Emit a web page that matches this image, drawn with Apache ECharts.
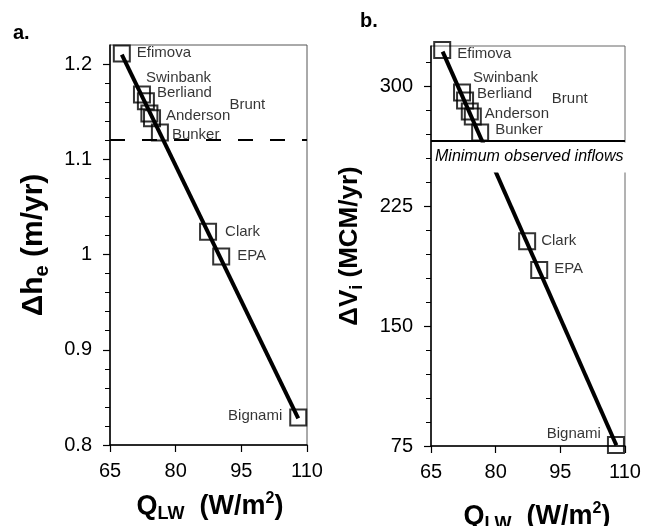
<!DOCTYPE html>
<html>
<head>
	<meta charset="utf-8">
	<title></title>
	<script src="https://cdn.jsdelivr.net/npm/echarts@6/dist/echarts.min.js"></script>
</head>
<body style="margin:0;background:#fff">
	<div id="main" style="width: 658px;height: 526px;"></div>
	<script>
		// values
		var names = ['Efimova', 'Swinbank', 'Berliand', 'Brunt', 'Anderson', 'Bunker', 'Clark', 'EPA', 'Bignami'];
		var qlwA = [67.7, 72.3, 73.2, 74.0, 74.6, 76.4, 87.4, 90.4, 108.0];
		var dhe = [1.211, 1.168, 1.161, 1.148, 1.143, 1.128, 1.024, 0.998, 0.829];
		var qlwB = [67.6, 72.2, 72.9, 74.0, 74.7, 76.4, 87.3, 90.1, 107.9];
		var dvi = [322.5, 296, 291, 284, 281, 271, 203, 185, 75.6];
		// regression line ends
		var fitQ = [67.7, 108.0];
		var fitA = [1.210, 0.828];
		var fitB = [321.5, 75.5];
		// horizontal reference lines
		var limitA = 1.116;
		var minInflowB = 265.6;
		// ticks
		var xTicks = [65, 80, 95, 110];
		var yTicksA = [0.8, 0.9, 1, 1.1, 1.2];
		var yMinorA = [0.82, 0.84, 0.86, 0.88, 0.92, 0.94, 0.96, 0.98, 1.02, 1.04, 1.06, 1.08, 1.12, 1.14, 1.16, 1.18];
		var yTicksB = [75, 150, 225, 300];
		var yMinorB = [90, 105, 120, 135, 165, 180, 195, 210, 240, 255, 270, 285, 315];

		var FONT = 'Liberation Sans, Arial, sans-serif';

		// label placement next to each square (dx, dy from centre)
		var shiftA = {Efimova: [16, 0], Swinbank: [5, -16], Berliand: [12, -7], Brunt: [81, -8], Anderson: [15, -1],
			Bunker: [13, 3], Clark: [18, 1], EPA: [17, 0], Bignami: [-15, -1]};
		var shiftB = {Efimova: [16, 5], Swinbank: [12, -14], Berliand: [13, -6], Brunt: [83, -12], Anderson: [13, -2],
			Bunker: [16, -2], Clark: [15, 1], EPA: [16, 0], Bignami: [-14, -10]};

		function points(xs, ys, shift) {
			return names.map(function (n, i) {
				var s = shift[n];
				return {
					name: n,
					value: [xs[i], ys[i]],
					label: {position: [s[0] + 8, s[1] + 8], align: s[0] < 0 ? 'right' : 'left'}
				};
			});
		}

		function pairs(xs, ys) {
			return xs.map(function (x, i) { return [x, ys[i]]; });
		}

		var myCharts = echarts.init(document.getElementById('main'));

		function xAxis(grid) {
			return {
				type: 'value', gridIndex: grid, min: 65, max: 110,
				axisLine: {show: true, onZero: false, lineStyle: {color: '#000', width: 1.5}},
				axisTick: {show: true, customValues: xTicks, length: 7, lineStyle: {color: '#000', width: 1.2}},
				axisLabel: {customValues: xTicks, fontSize: 20, color: '#000', fontFamily: FONT, margin: 16},
				splitLine: {show: false}
			};
		}
		function yAxis(grid, min, max, ticks, margin) {
			return {
				type: 'value', gridIndex: grid, min: min, max: max, position: 'left',
				axisLine: {show: true, onZero: false, lineStyle: {color: '#000', width: 1.5}},
				axisTick: {show: true, customValues: ticks, length: 7, lineStyle: {color: '#000', width: 1.2}},
				axisLabel: {customValues: ticks, fontSize: 20, color: '#000', fontFamily: FONT, margin: margin},
				splitLine: {show: false}
			};
		}
		// second axis on the same side, only for the short ticks
		function yMinor(grid, min, max, ticks) {
			return {
				type: 'value', gridIndex: grid, min: min, max: max, position: 'left', offset: 0,
				axisLine: {show: false, onZero: false},
				axisTick: {show: true, customValues: ticks, length: 5, lineStyle: {color: '#000', width: 1}},
				axisLabel: {show: false},
				splitLine: {show: false}
			};
		}

		var squareStyle = {color: 'rgba(0,0,0,0)', borderColor: '#000', borderWidth: 2};
		var labelStyle = {show: true, formatter: '{b}', fontSize: 15, color: '#000', fontFamily: FONT, verticalAlign: 'middle'};

		var option = {
			animation: false,
			grid: [
				{left: 110, top: 45, width: 197, height: 400, show: true, borderColor: '#555', borderWidth: 1},
				{left: 431, top: 46, width: 194, height: 400, show: true, borderColor: '#666', borderWidth: 1}
			],
			xAxis: [xAxis(0), xAxis(1)],
			yAxis: [
				yAxis(0, 0.8, 1.22, yTicksA, 18),
				yMinor(0, 0.8, 1.22, yMinorA),
				yAxis(1, 75, 325, yTicksB, 18),
				yMinor(1, 75, 325, yMinorB)
			],
			series: [
				{
					type: 'line', xAxisIndex: 0, yAxisIndex: 0, data: pairs(fitQ, fitA),
					symbol: 'none', lineStyle: {color: '#000', width: 4}, z: 2,
					markLine: {
						silent: true, symbol: 'none', label: {show: false},
						lineStyle: {color: '#000', width: 2, type: [15, 17]},
						data: [{yAxis: limitA}]
					}
				},
				{
					type: 'scatter', xAxisIndex: 0, yAxisIndex: 0, data: points(qlwA, dhe, shiftA),
					symbol: 'rect', symbolSize: 16, itemStyle: squareStyle, label: labelStyle, z: 3
				},
				{
					type: 'line', xAxisIndex: 1, yAxisIndex: 2, data: pairs(fitQ, fitB),
					symbol: 'none', lineStyle: {color: '#000', width: 4}, z: 2,
					markLine: {
						silent: true, symbol: 'none', label: {show: false},
						lineStyle: {color: '#000', width: 2, type: 'solid'},
						data: [{yAxis: minInflowB}]
					}
				},
				{
					type: 'scatter', xAxisIndex: 1, yAxisIndex: 2, data: points(qlwB, dvi, shiftB),
					symbol: 'rect', symbolSize: 16, itemStyle: squareStyle, label: labelStyle, z: 3
				}
			]
		};

		myCharts.setOption(option);

		// box with the inflow note, axis titles, panel letters
		var p0 = myCharts.convertToPixel({xAxisIndex: 1, yAxisIndex: 2}, [65, minInflowB]);
		var p1 = myCharts.convertToPixel({xAxisIndex: 1, yAxisIndex: 2}, [110, minInflowB]);
		function rich(size) {
			return {
				b: {fontSize: size, fontWeight: 'bold', fontFamily: FONT, lineHeight: size + 6},
				s: {fontSize: Math.round(size * 0.68), fontWeight: 'bold', fontFamily: FONT, verticalAlign: 'bottom'},
				u: {fontSize: Math.round(size * 0.6), fontWeight: 'bold', fontFamily: FONT, verticalAlign: 'top'}
			};
		}
		myCharts.setOption({
			graphic: [
				{type: 'rect', z: 100, shape: {x: p0[0] + 1, y: p0[1] + 1.5, width: p1[0] - p0[0] + 3, height: 30}, style: {fill: '#fff'}},
				{type: 'text', z: 101, x: p0[0] + 4, y: p0[1] + 16,
					style: {text: 'Minimum observed inflows', fontFamily: FONT, fontStyle: 'italic', fontSize: 16, fill: '#000', verticalAlign: 'middle'}},
				{type: 'text', x: 13, y: 33, style: {text: 'a.', fontSize: 20, verticalAlign: 'middle', fontFamily: FONT, fontWeight: 'bold', fill: '#000'}},
				{type: 'text', x: 360, y: 21, style: {text: 'b.', fontSize: 20, verticalAlign: 'middle', fontFamily: FONT, fontWeight: 'bold', fill: '#000'}},
				{type: 'text', x: 34, y: 245, rotation: Math.PI / 2,
					style: {text: '{b|Δh}{s|e}{b| (m/yr)}', rich: rich(30), align: 'center', verticalAlign: 'middle'}},
				{type: 'text', x: 350, y: 246, rotation: Math.PI / 2,
					style: {text: '{b|ΔV}{s|i}{b| (MCM/yr)}', rich: rich(26), align: 'center', verticalAlign: 'middle'}},
				{type: 'text', x: 210, y: 507,
					style: {text: '{b|Q}{s|LW}{b|  (W/m}{u|2}{b|)}', rich: rich(27), align: 'center', verticalAlign: 'middle'}},
				{type: 'text', x: 537, y: 517,
					style: {text: '{b|Q}{s|LW}{b|  (W/m}{u|2}{b|)}', rich: rich(27), align: 'center', verticalAlign: 'middle'}}
			]
		});
	</script>
</body>
</html>
